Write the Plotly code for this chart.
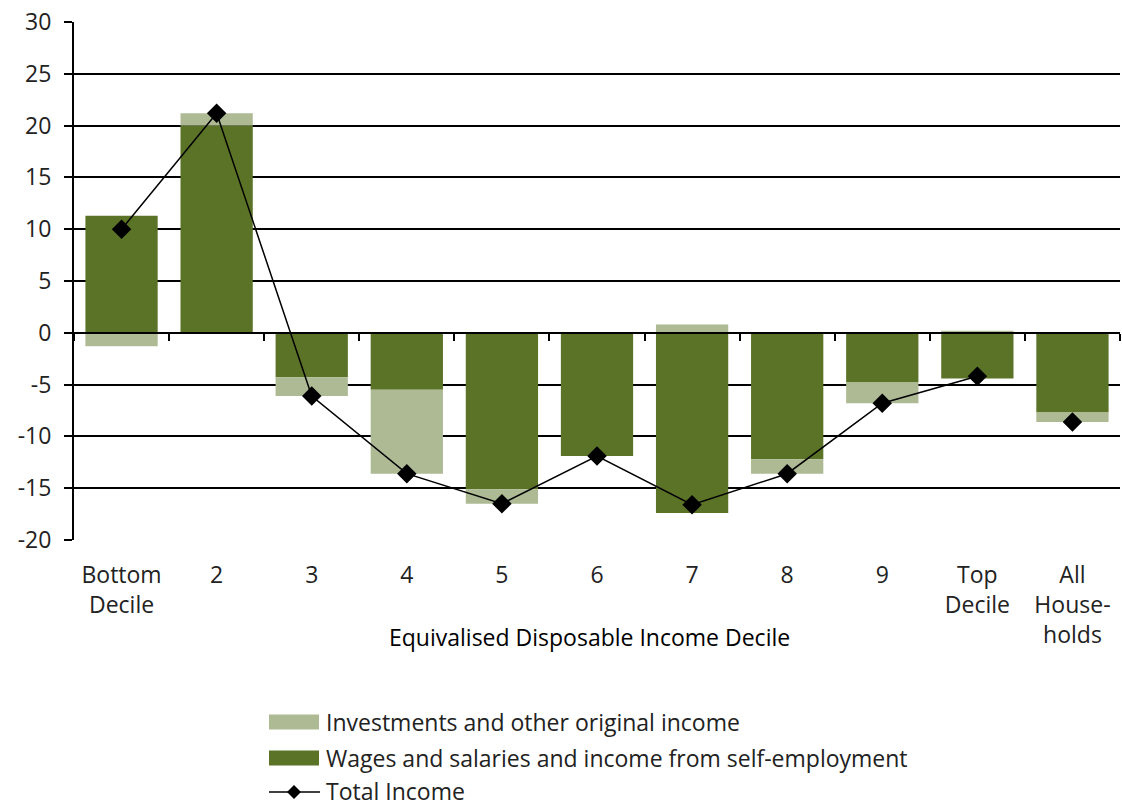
import plotly.graph_objects as go

# Decile categories (x axis)
categories = ["Bottom<br>Decile", "2", "3", "4", "5", "6", "7", "8", "9",
              "Top<br>Decile", "All<br>House-<br>holds"]

# Percentage-point contributions by income source
wages = [11.3, 20.0, -4.3, -5.5, -15.1, -11.9, -17.4, -12.2, -4.8, -4.4, -7.7]
investments = [-1.3, 1.2, -1.8, -8.1, -1.4, 0.0, 0.8, -1.4, -2.0, 0.2, -0.9]
total_income = [10.0, 21.2, -6.1, -13.6, -16.5, -11.9, -16.6, -13.6, -6.8, -4.2, -8.6]

y_ticks = [30, 25, 20, 15, 10, 5, 0, -5, -10, -15, -20]
y_tick_text = ["30", "25", "20", "15", "10", "5", "0", "-5", "-10", "-15", "-20"]

series_names = ["Investments and other original income",
                "Wages and salaries and income from self-employment",
                "Total Income"]

DARK_GREEN = "#5B7327"
LIGHT_GREEN = "#ADBA94"
FONT = "Open Sans, Noto Sans, DejaVu Sans, sans-serif"
TEXT = "#222222"

W, H = 1122, 807
ML, MR, MT, MB = 74, 2, 22, 267
PW, PH = W - ML - MR, H - MT - MB


def px_x(px):
    """Horizontal pixel position -> paper fraction."""
    return (px - ML) / PW


def px_y(py):
    """Vertical pixel position (from top) -> paper fraction."""
    return (H - MB - py) / PH


fig = go.Figure()

fig.add_trace(go.Bar(
    x=categories, y=wages, name=series_names[1],
    marker=dict(color=DARK_GREEN, line=dict(width=0)),
))
fig.add_trace(go.Bar(
    x=categories, y=investments, name=series_names[0],
    marker=dict(color=LIGHT_GREEN, line=dict(width=0)),
))
# Total income: deciles joined by a line, all-households point on its own
fig.add_trace(go.Scatter(
    x=categories[:-1], y=total_income[:-1], name=series_names[2],
    mode="lines+markers",
    line=dict(color="black", width=1.5),
    marker=dict(symbol="diamond", size=15, color="black"),
    xaxis="x2",
))
fig.add_trace(go.Scatter(
    x=categories[-1:], y=total_income[-1:], name=series_names[2],
    mode="markers",
    marker=dict(symbol="diamond", size=15, color="black"),
))

# Legend block below the chart
shapes = []
annotations = []
rows_py = [722, 758, 791]
sw_x0, sw_x1, text_x = 269, 319, 325
for name, py, kind in zip(series_names, rows_py, ["light", "dark", "line"]):
    if kind == "line":
        shapes.append(dict(
            type="line", xref="paper", yref="paper",
            x0=px_x(sw_x0), x1=px_x(sw_x1 + 1), y0=px_y(py + 1), y1=px_y(py + 1),
            line=dict(color="black", width=1.5),
        ))
        cx, cy, r = (sw_x0 + sw_x1) / 2, py + 1, 7
        shapes.append(dict(
            type="path", xref="paper", yref="paper",
            path=(f"M {px_x(cx - r)} {px_y(cy)} L {px_x(cx)} {px_y(cy - r)} "
                  f"L {px_x(cx + r)} {px_y(cy)} L {px_x(cx)} {px_y(cy + r)} Z"),
            fillcolor="black", line=dict(width=0),
        ))
    else:
        shapes.append(dict(
            type="rect", xref="paper", yref="paper",
            x0=px_x(sw_x0), x1=px_x(sw_x1), y0=px_y(py - 7.5), y1=px_y(py + 7.5),
            fillcolor=LIGHT_GREEN if kind == "light" else DARK_GREEN,
            line=dict(width=0),
        ))
    annotations.append(dict(
        text=name, xref="paper", yref="paper",
        x=px_x(text_x), y=px_y(py), xanchor="left", yanchor="middle",
        showarrow=False, borderpad=0,
        font=dict(family=FONT, size=23, color=TEXT),
    ))

annotations.append(dict(
    text="Equivalised Disposable Income Decile",
    xref="paper", yref="paper", x=px_x(589), y=px_y(637),
    xanchor="center", yanchor="middle", showarrow=False,
    font=dict(family=FONT, size=23, color="black"),
))

fig.update_layout(
    width=W, height=H,
    margin=dict(l=ML, r=MR, t=MT, b=MB),
    paper_bgcolor="white", plot_bgcolor="white",
    barmode="relative", bargap=0.24,
    font=dict(family=FONT, size=23, color=TEXT),
    showlegend=False,
    xaxis=dict(
        type="category", categoryorder="array", categoryarray=categories,
        range=[-0.5, len(categories) - 0.5],
        showline=False, showgrid=False, ticks="", zeroline=False,
        tickfont=dict(family=FONT, size=23, color=TEXT),
        ticklabelstandoff=19,
    ),
    xaxis2=dict(
        type="category", categoryorder="array", categoryarray=categories,
        range=[-0.5, len(categories) - 0.5],
        overlaying="x", anchor="free", position=0.4,
        showline=True, linecolor="black", linewidth=2,
        ticks="outside", tickson="boundaries", ticklen=7, tickwidth=2,
        tickcolor="black", showticklabels=False, showgrid=False,
        zeroline=False,
    ),
    yaxis=dict(
        range=[-20, 30], tickvals=y_ticks, ticktext=y_tick_text,
        showgrid=True, gridcolor="black", gridwidth=1.5,
        showline=True, linecolor="black", linewidth=2,
        ticks="outside", ticklen=8, tickwidth=2, tickcolor="black",
        zeroline=False, ticklabelstandoff=8,
        tickfont=dict(family=FONT, size=23, color=TEXT),
    ),
    shapes=shapes,
    annotations=annotations,
)

fig.write_html("out.html")
